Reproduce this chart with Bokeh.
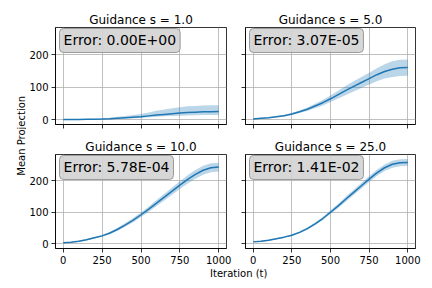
import math
from bokeh.plotting import figure
from bokeh.models import (GridBox, Range1d, Label, FixedTicker, CustomJSTickFormatter,
                          ColumnDataSource)
from bokeh.embed import file_html
from bokeh.resources import INLINE

# ---------------- data ----------------
iterations = [0, 50, 100, 150, 200, 250, 300, 350, 400, 450, 500,
              550, 600, 650, 700, 750, 800, 850, 900, 950, 1000]

titles = ["Guidance s = 1.0", "Guidance s = 5.0", "Guidance s = 10.0", "Guidance s = 25.0"]
errors = ["Error: 0.00E+00", "Error: 3.07E-05", "Error: 5.78E-04", "Error: 1.41E-02"]

s1_mean = [0, 0.2, 0.5, 1, 1.5, 2, 3, 4.5, 6, 7.5, 9, 11.5, 14, 16, 18, 20, 22, 23, 24, 24.5, 25]
s1_low = [0, 0, 0, 0.5, 1, 1, 1.5, 2.5, 3.5, 4.5, 5.5, 7, 8.5, 10, 11, 12, 13, 13.5, 14, 14, 14]
s1_high = [0, 0.5, 1, 2, 3, 4, 6, 8.5, 11, 14, 17, 22, 27, 31, 35, 38, 41, 42, 43, 44, 44]

s5_mean = [2, 4, 6, 9, 12, 17, 24, 32, 42, 52, 64, 77, 90, 102, 114, 126, 138, 148, 155, 159, 160]
s5_std = [1, 1, 1.5, 2, 2.5, 3, 4, 5.5, 7, 8.5, 10, 12, 14, 16, 17, 18, 20, 22, 24, 25, 25]

s10_mean = [3, 5, 8, 13, 19, 25, 34, 46, 60, 75, 92, 110, 129, 148, 167, 186, 204, 220, 233, 241, 243]
s10_std = [1, 1, 1.5, 2, 2.5, 3, 3.5, 4.5, 5.5, 6.5, 7.5, 8.5, 9.5, 10.5, 11.5, 12, 13, 13.5, 14, 14, 14]

s25_mean = [6, 8, 11, 16, 21, 27, 36, 48, 63, 80, 100, 120, 142, 163, 184, 205, 225, 241, 252, 257, 258]
s25_std = [1, 1, 1.5, 1.5, 2, 2.5, 3, 3.5, 4, 5, 6, 7, 8, 8.5, 9, 9.5, 10, 10.5, 11, 11, 11]

x_ticks = [0, 250, 500, 750, 1000]
y_ticks = [0, 100, 200]

# ---------------- helpers ----------------
FONT = "DejaVu Sans"
BLUE = "#1f77b4"

series = [
    (s1_mean, s1_low, s1_high),
    (s5_mean, [m - s for m, s in zip(s5_mean, s5_std)], [m + s for m, s in zip(s5_mean, s5_std)]),
    (s10_mean, [m - s for m, s in zip(s10_mean, s10_std)], [m + s for m, s in zip(s10_mean, s10_std)]),
    (s25_mean, [m - s for m, s in zip(s25_mean, s25_std)], [m + s for m, s in zip(s25_mean, s25_std)]),
]

XR = (-50, 1050)
YR = (-15, 283)


def make_panel(i, width, height, bl, br, bt, bb, show_xlabels, show_ylabels):
    p = figure(width=width, height=height, output_backend="svg", toolbar_location=None,
               x_range=Range1d(*XR), y_range=Range1d(*YR),
               min_border_left=bl, min_border_right=br, min_border_top=bt, min_border_bottom=bb,
               title=titles[i])
    p.title.text_font = FONT
    p.title.text_font_size = "12px"
    p.title.text_font_style = "normal"
    p.title.align = "center"
    p.title.text_color = "black"
    p.title.standoff = 2
    p.outline_line_color = "black"
    p.outline_line_width = 0.8
    p.background_fill_color = "white"
    p.border_fill_color = "white"

    for ax, ticks, show in ((p.xaxis[0], x_ticks, show_xlabels), (p.yaxis[0], y_ticks, show_ylabels)):
        ax.ticker = FixedTicker(ticks=ticks)
        ax.major_tick_in = 0
        ax.major_tick_out = 4
        ax.minor_tick_line_color = None
        ax.major_tick_line_color = "black"
        ax.major_tick_line_width = 0.8
        ax.axis_line_color = "black"
        ax.axis_line_width = 0.8
        ax.major_label_text_font = FONT
        ax.major_label_text_font_size = "10px"
        ax.major_label_text_color = "black"
        ax.major_label_standoff = 3
        if not show:
            ax.formatter = CustomJSTickFormatter(code="return ''")
            ax.major_label_standoff = 0

    p.grid.grid_line_color = "#b0b0b0"
    p.grid.grid_line_width = 0.8
    p.xgrid.ticker = FixedTicker(ticks=x_ticks)
    p.ygrid.ticker = FixedTicker(ticks=y_ticks)

    mean, low, high = series[i]
    src = ColumnDataSource(dict(t=iterations, m=mean, lo=low, hi=high))
    p.varea(x="t", y1="lo", y2="hi", source=src, fill_color=BLUE, fill_alpha=0.3)
    p.line(x="t", y="m", source=src, line_color=BLUE, line_width=1.5)

    lab = Label(x=-24, y=280, x_units="data", y_units="data", text=errors[i],
                anchor="top_left", text_font=FONT, text_font_size="14px", text_color="black",
                background_fill_color="#d3d3d3", background_fill_alpha=0.9,
                border_line_color="#9a9a9a", border_line_width=1, padding=4, border_radius=4)
    p.add_layout(lab)
    return p


# page body has no margin: layout offsets include the 8px shift
p1 = make_panel(0, 210, 136, 28, 10, 27, 12, False, True)
p2 = make_panel(1, 187, 136, 9, 8, 27, 12, False, False)
p3 = make_panel(2, 210, 130, 28, 10, 17, 17, True, True)
p4 = make_panel(3, 187, 130, 9, 8, 17, 17, True, False)


def strip(width, height):
    s = figure(width=width, height=height, output_backend="svg", toolbar_location=None,
               x_range=Range1d(0, 1), y_range=Range1d(0, 1),
               x_axis_location=None, y_axis_location=None,
               min_border=0, min_border_left=0, min_border_right=0,
               min_border_top=0, min_border_bottom=0)
    s.outline_line_color = None
    s.grid.visible = False
    s.background_fill_color = "white"
    s.border_fill_color = "white"
    return s


left = strip(26, 266)
left.add_layout(Label(x=0.8, y=0.51, text="Mean Projection", angle=math.pi / 2,
                      text_align="center", text_baseline="middle",
                      text_font=FONT, text_font_size="10px", text_color="black"))

bottom = strip(397, 14)
bottom.add_layout(Label(x=0.509, y=0.5, text="Iteration (t)",
                        text_align="center", text_baseline="middle",
                        text_font=FONT, text_font_size="10px", text_color="black"))

grid = GridBox(children=[(left, 0, 0, 2, 1), (p1, 0, 1), (p2, 0, 2),
                         (p3, 1, 1), (p4, 1, 2), (bottom, 2, 1, 1, 2)], spacing=0)

open("out.html", "w").write(file_html(grid, INLINE))
